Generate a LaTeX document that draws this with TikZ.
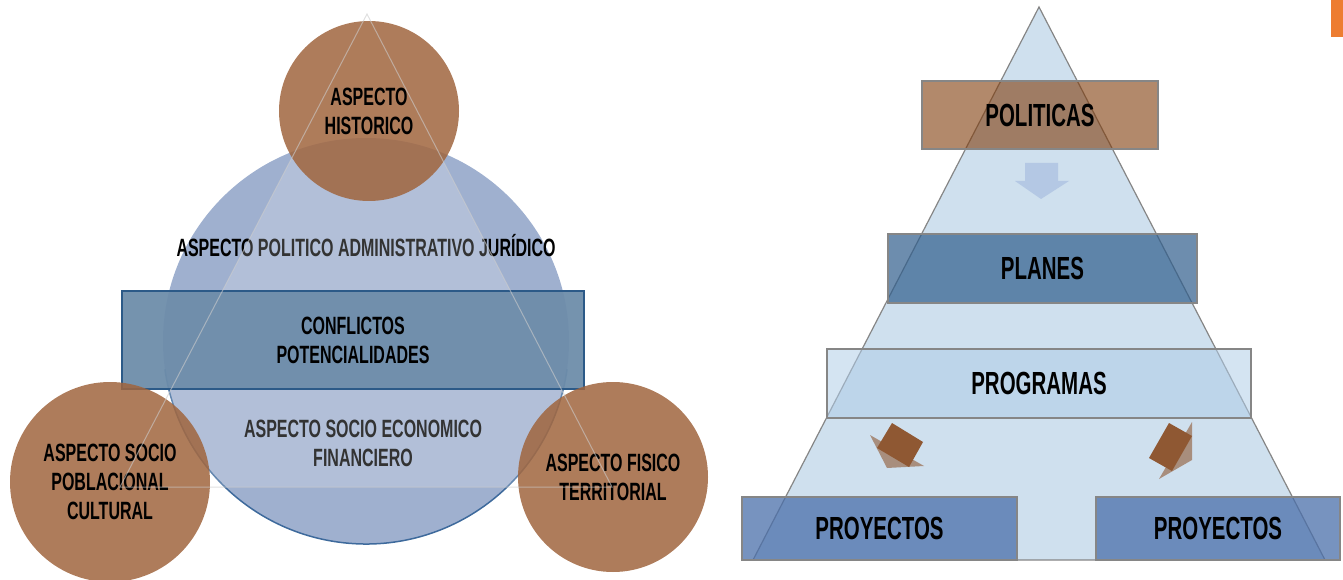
\documentclass[tikz,border=0pt]{standalone}
\usepackage{fontspec}
\setmainfont{Liberation Sans}[FakeStretch=0.64]
\definecolor{circulo}{HTML}{9FB0CF}
\definecolor{borde}{HTML}{3E6A9C}
\definecolor{cafe}{HTML}{A0653E}
\definecolor{conflicto}{HTML}{6E8DAA}
\definecolor{bordeconf}{HTML}{2C5A88}
\definecolor{piramide}{HTML}{CFE0EE}
\definecolor{politica}{HTML}{7F3A08}
\definecolor{plan}{HTML}{2F5D8C}
\definecolor{programa}{HTML}{B0CDE8}
\definecolor{proyecto}{HTML}{4A6FAA}
\definecolor{flecha}{HTML}{B4C8E4}
\definecolor{flechacafe}{HTML}{8F5833}
\definecolor{naranja}{HTML}{ED7D31}
\tikzset{
  texto/.style={align=center,inner sep=0pt,font=\fontsize{25}{29}\selectfont\bfseries},
  aspecto/.style={texto,circle,fill=cafe,fill opacity=0.85,text opacity=1,minimum size=#1},
  nivel/.style={draw=gray!95,line width=1.5pt,inner sep=0pt,text opacity=1,
    font=\fontsize{32}{36}\selectfont\bfseries},
}
\begin{document}
\begin{tikzpicture}[x=1pt,y=-1pt]
\useasboundingbox (0,0) rectangle (1343,580);
% izquierda
\fill[circulo] (366,341) circle (203);
\draw[borde,line width=1.5pt] (366,341) ++(8:203) arc (8:172:203);
\node[texto] (politico) at (366,246) {ASPECTO POLITICO ADMINISTRATIVO JURÍDICO};
\node[texto] (socioeco) at (363,443) {ASPECTO SOCIO ECONOMICO\\FINANCIERO};
\fill[white,opacity=0.2] (367,14) -- (612,487) -- (120,487) -- cycle;
\node[texto,draw=bordeconf,line width=1.5pt,fill=conflicto,fill opacity=0.95,text opacity=1,
  minimum width=462pt,minimum height=98pt] (conflictos) at (353,340) {CONFLICTOS\\POTENCIALIDADES};
\node[aspecto=180pt] (historico) at (369,111) {ASPECTO\\HISTORICO};
\node[aspecto=200pt] (poblacional) at (110,482) {ASPECTO SOCIO\\POBLACIONAL\\CULTURAL};
\node[aspecto=190pt] (fisico) at (613,477) {ASPECTO FISICO\\TERRITORIAL};
\draw[gray!40,opacity=0.6,line width=1pt] (367,14) -- (612,487) -- (120,487) -- cycle;
% derecha
\filldraw[fill=piramide,draw=gray!95,line width=1.2pt] (1039,7) -- (1325,560) -- (753,560) -- cycle;
\node[nivel,fill=politica,fill opacity=0.6,minimum width=236pt,minimum height=68pt] (politicas) at (1040,115) {POLITICAS};
\fill[flecha] (1025,163) -- (1058,163) -- (1058,181) -- (1069,181) -- (1041,199) -- (1015,181) -- (1025,181) -- cycle;
\node[nivel,fill=plan,fill opacity=0.7,minimum width=309pt,minimum height=69pt] (planes) at (1042.5,268.5) {PLANES};
\node[nivel,fill=programa,fill opacity=0.55,minimum width=424pt,minimum height=69pt] (programas) at (1039,383.5) {PROGRAMAS};
\node[nivel,fill=proyecto,fill opacity=0.75,minimum width=275pt,minimum height=63pt] (proyectos1) at (879.5,528.5) {PROYECTOS};
\node[nivel,fill=proyecto,fill opacity=0.75,minimum width=244pt,minimum height=63pt] (proyectos2) at (1218,528.5) {PROYECTOS};
\fill[flechacafe,opacity=0.6] (870,435) -- (887,468) -- (924,466) -- cycle;
\fill[flechacafe] (892,423) -- (923,442) -- (909,467) -- (877,448) -- cycle;
\fill[flechacafe,opacity=0.6] (1192,422) -- (1192,460) -- (1159,479) -- cycle;
\fill[flechacafe] (1169,423) -- (1192,436) -- (1172,471) -- (1149,458) -- cycle;
\fill[naranja] (1331,0) rectangle (1343,37);
\end{tikzpicture}
\end{document}
